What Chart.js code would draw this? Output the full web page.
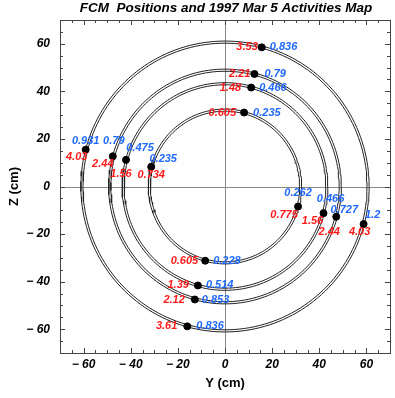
<!DOCTYPE html>
<html>
<head>
<meta charset="utf-8">
<script src="https://cdn.jsdelivr.net/npm/chart.js@4"></script>
<style>
 body { margin: 0; background: #fff; }
 canvas { display: block; }
</style>
</head>
<body>
<canvas id="map" width="395" height="398"></canvas>
<script>
// FCM ring radii (cm)
const ringRadii = [32.1, 43.2, 48.9, 60.7];

// FCM positions (Y, Z in cm): top, left, right, bottom groups
const fcmY = [15.6, 12.5, 11.1, 8.1, -59.1, -47.6, -42.0, -31.3, 31.0, 41.8, 47.2, 58.8, -8.4, -11.5, -12.8, -16.0];
const fcmZ = [58.5, 47.3, 41.6, 31.1, 15.5, 12.7, 11.2, 8.3, -8.4, -11.2, -12.7, -15.8, -31.2, -41.6, -47.5, -58.8];

// activities (red / blue labels)
const redVals = ["3.53", "2.21", "1.48", "0.605", "4.03", "2.44", "1.56", "0.734", "0.775", "1.56", "2.44", "4.03", "0.605", "1.39", "2.12", "3.61"];
const blueVals = ["0.836", "0.79", "0.466", "0.235", "0.931", "0.79", "0.475", "0.235", "0.262", "0.466", "0.727", "1.2", "0.228", "0.514", "0.853", "0.836"];

const tickVals = [-60, -40, -20, 0, 20, 40, 60];

// label placement (pixels from the point)
const redOff = [[-4, 0, "right"], [-4, 0, "right"], [-10, 0, "right"], [-8, 0, "right"],
 [-9, 7, "center"], [-10, 8, "center"], [-5, 14, "center"], [0, 8, "center"],
 [-14, 8, "center"], [-11, 8, "center"], [-7, 15, "center"], [-4, 8, "center"],
 [-7, 0, "right"], [-9, 0, "right"], [-10, 0, "right"], [-10, 0, "right"]];
const blueOff = [[8, 0, "left"], [10, 0, "left"], [8, 0, "left"], [9, 0, "left"],
 [0, -9, "center"], [1, -15, "center"], [14, -12, "center"], [12, -8, "center"],
 [0, -14, "center"], [7, -14, "center"], [8, -7, "center"], [9, -9, "center"],
 [8, 0, "left"], [8, 0, "left"], [7, 0, "left"], [9, 0, "left"]];

function ring(r) {
 const pts = [];
 for (let a = 0; a <= 360; a += 2) {
 const t = a * Math.PI / 180;
 pts.push({ x: r * Math.cos(t), y: r * Math.sin(t) });
 }
 return pts;
}

const datasets = [{
 data: fcmY.map((y, i) => ({ x: y, y: fcmZ[i] })),
 backgroundColor: "#000",
 borderColor: "#000",
 pointRadius: 3.5,
 showLine: false,
 order: 0
}];
ringRadii.forEach(r => {
 [r - 0.45, r + 0.45].forEach(rr => {
 datasets.push({
 data: ring(rr),
 showLine: true,
 pointRadius: 0,
 borderColor: "#222",
 borderWidth: 1,
 order: 1
 });
 });
});

function tickText(v) {
 return v < 0 ? "\u2212 " + Math.abs(v) : String(v);
}

const mapPlugin = {
 id: "mapDeco",
 beforeDatasetsDraw(chart) {
 const { ctx, chartArea: a, scales: { x, y } } = chart;
 ctx.save();
 ctx.strokeStyle = "#888";
 ctx.lineWidth = 1;
 ctx.beginPath();
 const x0 = Math.round(x.getPixelForValue(0)) + 0.5;
 const y0 = Math.round(y.getPixelForValue(0)) + 0.5;
 ctx.moveTo(x0, a.top); ctx.lineTo(x0, a.bottom);
 ctx.moveTo(a.left, y0); ctx.lineTo(a.right, y0);
 ctx.stroke();
 ctx.restore();
 },
 afterDatasetsDraw(chart) {
 const { ctx } = chart;
 const meta = chart.getDatasetMeta(0);
 ctx.save();
 ctx.font = "italic bold 11px 'Liberation Sans', Arial, sans-serif";
 ctx.textBaseline = "middle";
 meta.data.forEach((p, i) => {
 ctx.fillStyle = "#ff1a1a";
 ctx.textAlign = redOff[i][2];
 ctx.fillText(redVals[i], p.x + redOff[i][0], p.y + redOff[i][1]);
 ctx.fillStyle = "#1f69ff";
 ctx.textAlign = blueOff[i][2];
 ctx.fillText(blueVals[i], p.x + blueOff[i][0], p.y + blueOff[i][1]);
 });
 ctx.restore();
 },
 afterDraw(chart) {
 const { ctx, chartArea: a, scales: { x, y } } = chart;
 ctx.save();
 ctx.strokeStyle = "#444";
 ctx.lineWidth = 1;
 ctx.strokeRect(Math.round(a.left) + 0.5, Math.round(a.top) + 0.5,
 Math.round(a.right - a.left), Math.round(a.bottom - a.top));
 ctx.beginPath();
 for (let v = -70; v <= 70; v += 5) {
 const len = v % 20 === 0 ? 5 : 3;
 const px = Math.round(x.getPixelForValue(v)) + 0.5;
 ctx.moveTo(px, a.bottom); ctx.lineTo(px, a.bottom - len);
 ctx.moveTo(px, a.top); ctx.lineTo(px, a.top + len);
 const py = Math.round(y.getPixelForValue(v)) + 0.5;
 ctx.moveTo(a.left, py); ctx.lineTo(a.left + len, py);
 ctx.moveTo(a.right, py); ctx.lineTo(a.right - len, py);
 }
 ctx.stroke();
 ctx.fillStyle = "#000";
 ctx.font = "italic bold 13.5px 'Liberation Sans', Arial, sans-serif";
 ctx.textAlign = "center";
 ctx.textBaseline = "middle";
 ctx.fillText("FCM  Positions and 1997 Mar 5 Activities Map", (a.left + a.right) / 2 + 1, 8);
 ctx.restore();
 }
};

const tickFont = { family: "'Liberation Sans', Arial, sans-serif", size: 12, style: "italic", weight: "bold" };
const titleFont = { family: "'Liberation Sans', Arial, sans-serif", size: 13, weight: "bold" };

new Chart(document.getElementById("map"), {
 type: "scatter",
 data: { datasets },
 plugins: [mapPlugin],
 options: {
 responsive: false,
 animation: false,
 devicePixelRatio: 1,
 layout: { padding: { top: 20, right: 3, left: 0, bottom: 0 } },
 plugins: { legend: { display: false }, tooltip: { enabled: false } },
 scales: {
 x: {
 type: "linear", min: -70, max: 70,
 grid: { display: false, drawTicks: false },
 border: { display: false },
 afterBuildTicks: s => { s.ticks = tickVals.map(v => ({ value: v })); },
 afterFit: s => { s.height = 45; },
 ticks: { font: tickFont, color: "#000", padding: 4, maxRotation: 0, callback: v => tickText(v) },
 title: { display: true, text: "Y (cm)", font: titleFont, color: "#000", padding: { top: 0, bottom: 7 } }
 },
 y: {
 type: "linear", min: -70, max: 70,
 grid: { display: false, drawTicks: false },
 border: { display: false },
 afterBuildTicks: s => { s.ticks = tickVals.map(v => ({ value: v })); },
 afterFit: s => { s.width = 60; },
 ticks: { font: tickFont, color: "#000", padding: 10, callback: v => tickText(v) },
 title: { display: true, text: "Z (cm)", font: titleFont, color: "#000", padding: { top: 7, bottom: 0 } }
 }
 }
 }
});
</script>
</body>
</html>
